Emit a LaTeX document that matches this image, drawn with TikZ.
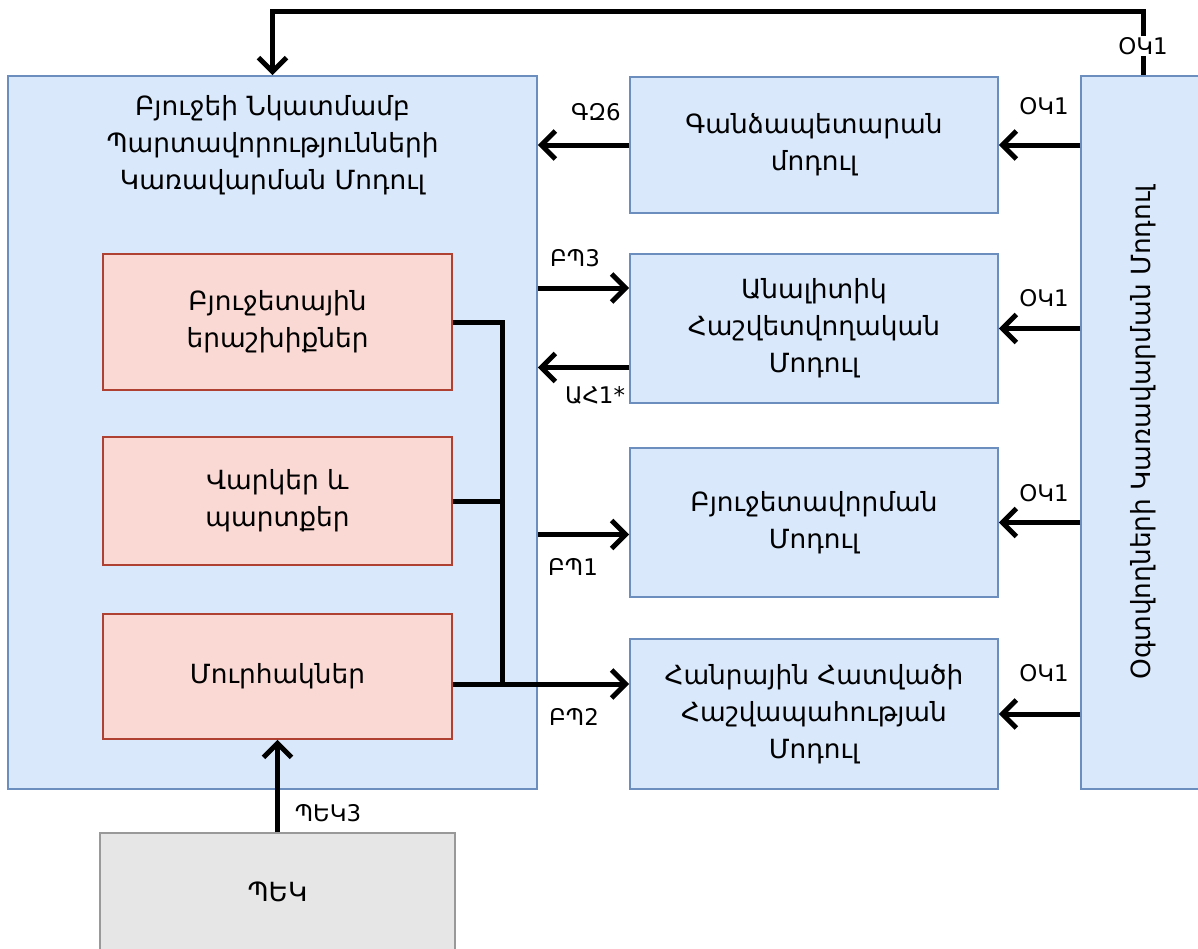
\documentclass[tikz,border=0pt]{standalone}
\usepackage{fontspec}
\setmainfont{DejaVu Sans}
\usetikzlibrary{arrows.meta}

\definecolor{bluefill}{HTML}{DAE8FC}
\definecolor{blueline}{HTML}{6C8EBF}
\definecolor{redfill}{HTML}{FAD9D5}
\definecolor{redline}{HTML}{AE4132}
\definecolor{grayfill}{HTML}{E6E6E6}
\definecolor{grayline}{HTML}{999999}

\tikzset{
  boxtext/.style={font=\fontsize{26.5}{37}\selectfont, align=center},
  bluebox/.style={draw=blueline, fill=bluefill, line width=1.5bp, inner sep=0pt, boxtext},
  redbox/.style={draw=redline, fill=redfill, line width=1.5bp, inner sep=0pt, boxtext},
  graybox/.style={draw=grayline, fill=grayfill, line width=1.5bp, inner sep=0pt, boxtext},
  wire/.style={line width=5bp},
  flow/.style={line width=5bp, -{Straight Barb[length=14bp,width=28bp]}},
  tag/.style={font=\fontsize{23}{27}\selectfont, inner sep=1bp},
}

\begin{document}
\begin{tikzpicture}[x=1bp, y=-1bp]
\useasboundingbox (0,0) rectangle (1198,949);

% outer module with its title
\node[bluebox, minimum width=529bp, minimum height=713bp] (main) at (272.5,432.5) {};
\node[boxtext] (maintitle) at (272.5,145) {Բյուջեի Նկատմամբ\\Պարտավորությունների\\Կառավարման Մոդուլ};

% inner components
\node[redbox, minimum width=349bp, minimum height=136bp] (guar) at (277.5,322) {Բյուջետային\\երաշխիքներ};
\node[redbox, minimum width=349bp, minimum height=128bp] (loans) at (277.5,501) {Վարկեր և\\պարտքեր};
\node[redbox, minimum width=349bp, minimum height=125bp] (bills) at (277.5,676.5) {Մուրհակներ};

% neighbouring modules
\node[bluebox, minimum width=368bp, minimum height=136bp] (treasury) at (814,145) {Գանձապետարան\\մոդուլ};
\node[bluebox, minimum width=368bp, minimum height=149bp] (analytic) at (814,328.5) {Անալիտիկ\\Հաշվետվողական\\Մոդուլ};
\node[bluebox, minimum width=368bp, minimum height=149bp] (budget) at (814,522.5) {Բյուջետավորման\\Մոդուլ};
\node[bluebox, minimum width=368bp, minimum height=150bp] (public) at (814,714) {Հանրային Հատվածի\\Հաշվապահության\\Մոդուլ};
\node[bluebox, minimum width=124bp, minimum height=713bp] (users) at (1143,432.5) {};
\node[boxtext, rotate=90] (userstitle) at (users.center) {Օգտվողների Կառավարման Մոդուլ};

% tax service
\node[graybox, minimum width=355bp, minimum height=118bp] (tax) at (277.5,892) {ՊԵԿ};

% flows between modules
\draw[flow] (treasury.west) -- (treasury.west -| main.east);
\draw[flow] ([yshift=40.5bp]analytic.west -| main.east) -- ([yshift=40.5bp]analytic.west);
\draw[flow] ([yshift=-39bp]analytic.west) -- ([yshift=-39bp]analytic.west -| main.east);
\draw[flow] ([yshift=-12bp]budget.west -| main.east) -- ([yshift=-12bp]budget.west);

% collecting bus from the inner components
\coordinate (bus) at (502,0);
\draw[wire] (guar.east) -- (guar.east -| bus) -- ([yshift=-7.5bp]bills.east -| bus);
\draw[wire] (loans.east) -- (loans.east -| bus);
\draw[flow] ([yshift=-7.5bp]bills.east) -- ([yshift=-7.5bp]bills.east -| public.west);

% user management feeds every module
\draw[flow] (treasury.east -| users.west) -- (treasury.east);
\draw[flow] (analytic.east -| users.west) -- (analytic.east);
\draw[flow] (budget.east -| users.west) -- (budget.east);
\draw[flow] (public.east -| users.west) -- (public.east);
\draw[flow] (users.north) -- ++(0,-64) -| (main.north);

\draw[flow] (tax.north) -- (bills.south);

% flow tags
\node[tag, fill=white] (tagtop) at (1143,46) {ՕԿ1};
\node[tag] (tagtr) at (596,112) {ԳԶ6};
\node[tag] (tagan1) at (575,258) {ԲՊ3};
\node[tag] (tagan2) at (595,395) {ԱՀ1*};
\node[tag] (tagbu) at (573,567) {ԲՊ1};
\node[tag] (tagpu) at (574,717) {ԲՊ2};
\node[tag] (tagu1) at (1044,106) {ՕԿ1};
\node[tag] (tagu2) at (1044,298) {ՕԿ1};
\node[tag] (tagu3) at (1044,493) {ՕԿ1};
\node[tag] (tagu4) at (1044,673) {ՕԿ1};
\node[tag] (tagtax) at (328,813) {ՊԵԿ3};
\end{tikzpicture}
\end{document}
